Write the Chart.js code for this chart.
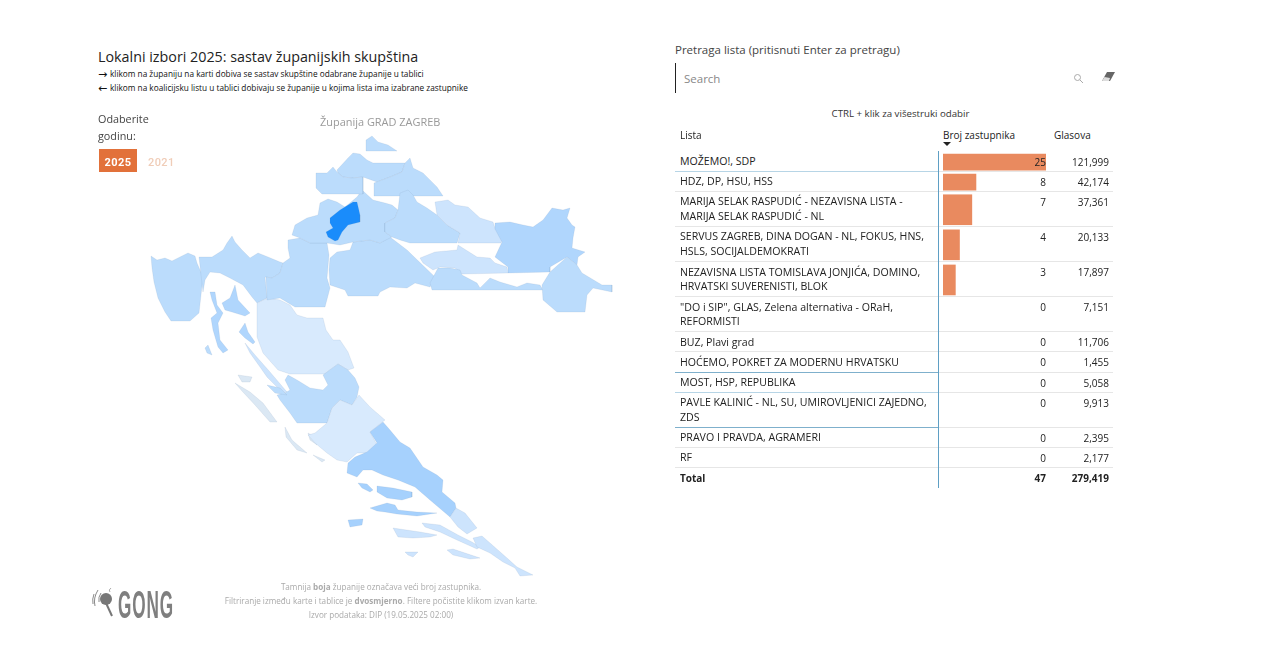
<!DOCTYPE html>
<html lang="hr"><head><meta charset="utf-8"><title>Lokalni izbori 2025</title>
<script src="https://cdn.jsdelivr.net/npm/chart.js@4"></script>
<style>
html,body{margin:0;padding:0;background:#fff;overflow:hidden}
body{width:1270px;height:650px;position:relative;font-family:"Open Sans","Noto Sans",sans-serif;color:#222}
.t{position:absolute;white-space:nowrap;line-height:1}
#mapBox{position:absolute;left:140px;top:125px;width:480px;height:460px}
#barBox{position:absolute;left:943px;top:151.7px;width:103px;height:336px}
</style></head><body>
<div id="mapBox"><canvas id="map"></canvas></div>
<div id="barBox"><canvas id="bars"></canvas></div>
<div id="ui"></div>
<svg style="position:absolute;left:92px;top:586px" width="28" height="32" viewBox="0 0 28 32"><g fill="none" stroke="#8a8a8a"><path d="M6 4 Q1 12 3 20M2 8Q0 13 1 18" stroke-width="1"/><path d="M9 7Q6 11 7 16" stroke-width="1"/></g><circle cx="14" cy="13" r="6" fill="#777"/><path d="M14 17L20 30" stroke="#777" stroke-width="2"/><path d="M19 2Q16 4 18 6" stroke="#aaa" fill="none"/></svg>
<div class="t" style="left:118px;top:583px;font:700 39px 'Liberation Sans',sans-serif;color:#7f7f7f;transform-origin:0 0;transform:scaleX(.44);letter-spacing:2px">GONG</div>
<svg style="position:absolute;left:1072px;top:72px" width="13" height="13" viewBox="0 0 13 13"><circle cx="5.5" cy="5.5" r="3" fill="none" stroke="#aaa"/><path d="M8 8l3 3" stroke="#aaa"/></svg>
<svg style="position:absolute;left:1101px;top:71px" width="15" height="12" viewBox="0 0 15 12"><path d="M1 10L6 1H14L9 10Z" fill="#666"/><path d="M1 10L3.5 6L9 7L8 10Z" fill="#ddd"/></svg>
<script>
// ---------- table data ----------
const listNames = [
 ['MOŽEMO!, SDP'],['HDZ, DP, HSU, HSS'],
 ['MARIJA SELAK RASPUDIĆ - NEZAVISNA LISTA -','MARIJA SELAK RASPUDIĆ - NL'],
 ['SERVUS ZAGREB, DINA DOGAN - NL, FOKUS, HNS,','HSLS, SOCIJALDEMOKRATI'],
 ['NEZAVISNA LISTA TOMISLAVA JONJIĆA, DOMINO,','HRVATSKI SUVERENISTI, BLOK'],
 ['"DO i SIP", GLAS, Zelena alternativa - ORaH,','REFORMISTI'],
 ['BUZ, Plavi grad'],['HOĆEMO, POKRET ZA MODERNU HRVATSKU'],['MOST, HSP, REPUBLIKA'],
 ['PAVLE KALINIĆ - NL, SU, UMIROVLJENICI ZAJEDNO,','ZDS'],
 ['PRAVO I PRAVDA, AGRAMERI'],['RF']];
const seats = [25,8,7,4,3,0,0,0,0,0,0,0];
const votes = ['121,999','42,174','37,361','20,133','17,897','7,151','11,706','1,455','5,058','9,913','2,395','2,177'];
const totalRow = ['Total','47','279,419'];
const headers = ['Lista','Broj zastupnika','Glasova'];
// ---------- map data: county outlines in map units ----------
const istra=[[151,256],[157,260],[165,258],[172,261],[180,257],[188,253],[195,256],[197,263],[203,277],[201,295],[199,313],[190,321],[171,321],[165,312],[158,298],[154,282],[152,268]];
const primorje=[[199,257],[212,257],[223,250],[227,243],[232,236],[235,242],[242,250],[250,258],[258,253],[268,257],[280,262],[283,263],[280,273],[272,278],[265,277],[267,298],[257,303],[252,297],[243,285],[230,278],[220,273],[210,272],[205,280],[203,292],[201,275]];
const krk=[[222,303],[230,298],[235,285],[238,300],[250,313],[245,316],[232,312],[225,310]];
const cres=[[210,292],[215,292],[217,305],[223,313],[218,323],[220,340],[228,350],[223,353],[218,347],[213,330],[211,318],[217,313],[212,300]];
const rab=[[239,332],[245,323],[248,332],[255,342],[253,344],[245,338]];
const unije=[[205,348],[208,345],[212,355],[207,353]];
const lika=[[257,303],[268,298],[280,300],[290,305],[297,315],[307,318],[323,318],[326,330],[333,340],[340,340],[348,352],[354,368],[348,370],[338,364],[327,372],[325,374],[290,374],[278,370],[263,353],[257,337]];
const pag=[[245,343],[255,355],[270,372],[287,392],[283,393],[267,377],[260,367],[250,353]];
const zadar=[[288,375],[297,380],[310,388],[323,390],[328,385],[323,375],[327,372],[338,364],[348,370],[355,378],[359,387],[357,397],[352,405],[340,400],[332,408],[327,423],[297,423],[290,413],[280,400],[277,395],[285,393],[290,390],[285,380]];
const dugi=[[235,383],[250,392],[263,403],[277,422],[270,422],[255,405],[242,391]];
const ugljan=[[267,385],[280,388],[287,395],[275,393]];
const zIsle=[[238,375],[252,377],[250,382],[242,382]];
const sIsle1=[[285,427],[292,440],[307,453],[297,450],[286,437]];
const sIsle2=[[308,433],[315,437],[317,445],[310,440]];
const sIsle3=[[313,455],[325,460],[322,462]];
const sibenik=[[327,423],[332,408],[340,400],[352,405],[359,395],[370,407],[385,420],[370,432],[377,445],[367,453],[357,453],[347,462],[337,460],[327,453],[315,443],[308,435],[315,433]];
const split=[[383,422],[390,430],[400,442],[410,448],[423,467],[437,475],[443,480],[442,492],[455,503],[456,508],[450,517],[430,500],[415,487],[398,480],[383,475],[372,470],[363,470],[357,477],[347,473],[348,463],[355,457],[367,452],[377,443],[370,432]];
const dubrovnik=[[456,508],[465,513],[477,528],[467,534],[458,527],[450,517]];
const solta=[[358,483],[367,484],[373,490],[370,492],[362,488]];
const brac=[[377,486],[393,488],[412,492],[412,497],[402,500],[387,498],[377,492]];
const hvar=[[370,508],[387,503],[395,505],[398,510],[417,512],[437,513],[417,516],[397,514],[385,512],[377,511]];
const vis=[[348,520],[363,519],[362,525],[350,527]];
const korcula=[[393,528],[420,532],[437,535],[430,537],[413,538],[398,537]];
const peljesac=[[422,523],[440,525],[458,535],[472,542],[480,547],[477,549],[457,540],[440,532],[425,527]];
const duCoast=[[473,538],[482,536],[490,543],[507,558],[517,567],[533,575],[520,576],[515,568],[503,562],[490,553],[477,547]];
const lastovo=[[405,552],[418,552],[413,557],[408,555]];
const mljet=[[447,550],[453,549],[480,558],[470,559],[453,555]];
const karlovac=[[288,240],[300,238],[310,243],[327,243],[329,255],[327,278],[330,288],[325,307],[295,307],[280,298],[267,300],[266,277],[272,278],[280,273],[283,263],[290,258],[288,248]];
const sisak=[[330,258],[337,252],[350,250],[353,242],[370,240],[380,243],[390,237],[407,250],[435,277],[430,287],[415,283],[407,288],[390,287],[380,292],[378,296],[348,296],[345,290],[330,285],[329,270]];
const zagrebCounty=[[295,225],[307,218],[318,215],[320,203],[328,199],[337,202],[345,207],[357,197],[362,190],[373,200],[385,203],[392,205],[398,210],[395,218],[385,223],[385,232],[392,237],[380,243],[370,240],[353,242],[340,245],[327,243],[310,243],[300,238],[292,235]];
const gradZagreb=[[330,218],[340,210],[353,202],[357,202],[360,215],[360,222],[348,225],[342,232],[338,240],[335,241],[328,237],[326,232],[333,228],[330,223]];
const medimurje=[[366,151],[366,140],[372,136],[378,142],[388,145],[397,151]];
const varazdin=[[337,170],[348,158],[353,153],[360,154],[367,160],[373,163],[387,163],[405,163],[402,172],[390,177],[382,180],[377,182],[363,177],[352,178],[343,177],[338,173]];
const krapina=[[316,173],[327,173],[333,167],[337,172],[343,177],[352,178],[363,177],[363,194],[322,194],[316,188]];
const koprivnica=[[374,196],[374,183],[382,180],[390,177],[402,172],[405,163],[410,158],[413,168],[423,173],[430,180],[437,187],[443,196]];
const bjelovar=[[400,193],[408,190],[413,195],[417,202],[427,208],[437,215],[447,225],[460,233],[457,243],[410,243],[400,240],[392,237],[385,232],[385,223],[395,218],[398,210]];
const virovitica=[[435,202],[448,200],[455,205],[468,207],[480,218],[493,222],[495,228],[503,238],[501,243],[458,243],[460,233],[447,225],[437,215]];
const osijek=[[495,223],[510,222],[523,225],[533,227],[543,220],[552,208],[563,210],[570,208],[567,218],[572,225],[575,227],[573,238],[572,248],[585,252],[578,257],[577,265],[567,257],[550,267],[550,272],[508,273],[508,267],[495,257],[502,242],[495,229]];
const pozega=[[420,258],[435,252],[457,250],[458,245],[477,257],[490,258],[495,263],[507,267],[508,273],[462,274],[455,268],[440,267],[433,270],[423,263]];
const brod=[[430,283],[438,268],[450,268],[460,270],[462,275],[477,283],[480,288],[490,278],[500,282],[517,287],[527,283],[540,285],[543,290],[432,290]];
const vukovar=[[542,285],[550,272],[567,257],[577,265],[582,273],[597,282],[602,285],[612,285],[612,292],[593,288],[587,295],[585,312],[557,312],[543,300]];
const shade={sel:'#1a8cfb',dark:'#a6d1fd',mid:'#b0d6fd',base:'#bbdcfc',light:'#cde4fd',pale:'#d8eafd',isle:'#dbe8f4'};
const countyShades=[[istra,'base'],[primorje,'base'],[krk,'mid'],[cres,'mid'],[rab,'mid'],[unije,'base'],[lika,'pale'],[pag,'light'],[zadar,'base'],[dugi,'isle'],[ugljan,'base'],[zIsle,'isle'],[sIsle1,'isle'],[sIsle2,'isle'],[sIsle3,'isle'],[sibenik,'pale'],[split,'dark'],[dubrovnik,'light'],[solta,'dark'],[brac,'dark'],[hvar,'dark'],[vis,'dark'],[korcula,'light'],[peljesac,'light'],[duCoast,'light'],[lastovo,'light'],[mljet,'light'],[karlovac,'base'],[sisak,'base'],[zagrebCounty,'base'],[medimurje,'base'],[varazdin,'base'],[krapina,'base'],[koprivnica,'base'],[bjelovar,'base'],[virovitica,'light'],[osijek,'mid'],[pozega,'light'],[brod,'base'],[vukovar,'base'],[gradZagreb,'sel']];

new Chart(document.getElementById('map'),{type:'scatter',
 data:{datasets:countyShades.map(([poly,s],i)=>({order:countyShades.length-i,data:[...poly,poly[0]].map(([x,y])=>({x,y})),showLine:true,fill:'shape',backgroundColor:shade[s],borderColor:'rgba(110,140,170,.2)',borderWidth:.6,pointRadius:0,tension:0}))},
 options:{responsive:true,maintainAspectRatio:false,animation:false,events:[],layout:{padding:0},
  plugins:{legend:{display:false},tooltip:{enabled:false}},
  scales:{x:{type:'linear',min:140,max:620,display:false},y:{type:'linear',min:125,max:585,reverse:true,display:false}}}});

const lineH=l=>20.1+15*(l-1);
let acc=0; const rowTops=listNames.map(n=>{const t=acc;acc+=lineH(n.length);return t;});
const barPts=lines=>seats.map((v,i)=>({x:v,y:rowTops[i]+lineH(listNames[i].length)/2,l:listNames[i].length})).filter(p=>p.l===lines&&p.x>0);
new Chart(document.getElementById('bars'),{type:'bar',
 data:{datasets:[
  {data:barPts(1),backgroundColor:'#e98a5f',barThickness:16,stack:'s',borderWidth:0},
  {data:barPts(2),backgroundColor:'#e98a5f',barThickness:30,stack:'s',borderWidth:0}]},
 options:{indexAxis:'y',responsive:true,maintainAspectRatio:false,animation:false,events:[],layout:{padding:0},
  plugins:{legend:{display:false},tooltip:{enabled:false}},
  scales:{x:{type:'linear',stacked:true,min:0,max:25,display:false},y:{type:'linear',stacked:true,offset:false,min:0,max:336,reverse:true,display:false}}}});

const ui=document.getElementById('ui');
function T(txt,x,y,size,color,extra){const d=document.createElement('div');d.className='t';d.innerHTML=txt;
 d.style.cssText=`left:${x}px;top:${y-size/2}px;font-size:${size}px;color:${color};${extra||''}`;ui.appendChild(d);return d;}
function R(x,y,w,h,c){const d=document.createElement('div');d.style.cssText=`position:absolute;left:${x}px;top:${y}px;width:${w}px;height:${h}px;background:${c}`;ui.appendChild(d);}
const B='#111';
T('Lokalni izbori 2025: sastav županijskih skupština',98,57,14.3,'#222');
T('→',98,74,11,B,"font-family:'DejaVu Sans'");T('klikom na županiju na karti dobiva se sastav skupštine odabrane županije u tablici',110,74,8.25,B);
T('←',98,88,11,B,"font-family:'DejaVu Sans'");T('klikom na koalicijsku listu u tablici dobivaju se županije u kojima lista ima izabrane zastupnike',110,88,8.25,B);
T('Odaberite',98,119,10.8,'#444');T('godinu:',98,136,10.8,'#444');
R(99,149,38,23,'#e2713a');
T('2025',104.5,162,11,'#fff','font-family:Roboto;font-weight:700;letter-spacing:.4px');
T('2021',148,162,11,'#f0cdb8','font-family:Roboto;font-weight:500;letter-spacing:.4px');
T('Županija GRAD ZAGREB',320,122,10.95,'#9a9a9a');
const fs=[['Tamnija <b>boja</b> županije označava veći broj zastupnika.',587],['Filtriranje između karte i tablice je <b>dvosmjerno</b>. Filtere počistite klikom izvan karte.',601],['Izvor podataka: DIP (19.05.2025 02:00)',615]];
fs.forEach(([s,y])=>T(s,381,y,8.15,'#aaa','transform:translateX(-50%)'));
T('Pretraga lista (pritisnuti Enter za pretragu)',675,50,11.5,'#444');
R(675,63,1,30,'#222');
T('Search',684,79,11.5,'#888');
T('CTRL + klik za višestruki odabir',900.5,114,9.7,'#333','transform:translateX(-50%)');
T(headers[0],680,135,10,'#222');T(headers[1],943,135,10,'#222');T(headers[2],1054,135,10,'#222');
const tri=document.createElement('div');tri.style.cssText='position:absolute;left:943px;top:142px;width:0;height:0;border-left:4px solid transparent;border-right:4px solid transparent;border-top:4px solid #222';ui.appendChild(tri);
const top0=151.7;
const blue={0:'#b7d5e6',7:'#7fb0cc',8:'#b7d5e6',9:'#7fb0cc'};
listNames.forEach((n,i)=>{
 const y=top0+rowTops[i];
 n.forEach((line,k)=>T(line,680,y+9.7+k*14.5,10.6,'#222'));
 T(String(seats[i]),1046,y+10,10,'#222','transform:translateX(-100%)');
 T(votes[i],1109,y+10,10,'#222','transform:translateX(-100%)');
 const by=Math.round(y+lineH(n.length))-1;
 R(675,by,438,1,'#e6e6e6');
 if(blue[i]) R(675,by,263,1,blue[i]);
});
T(totalRow[0],680,478,10,'#222','font-weight:700');
T(totalRow[1],1046,478,10,'#222','font-weight:700;transform:translateX(-100%)');
T(totalRow[2],1109,478,10,'#222','font-weight:700;transform:translateX(-100%)');
R(938,151,1,337,'#5f9fc4');
</script>
</body></html>
